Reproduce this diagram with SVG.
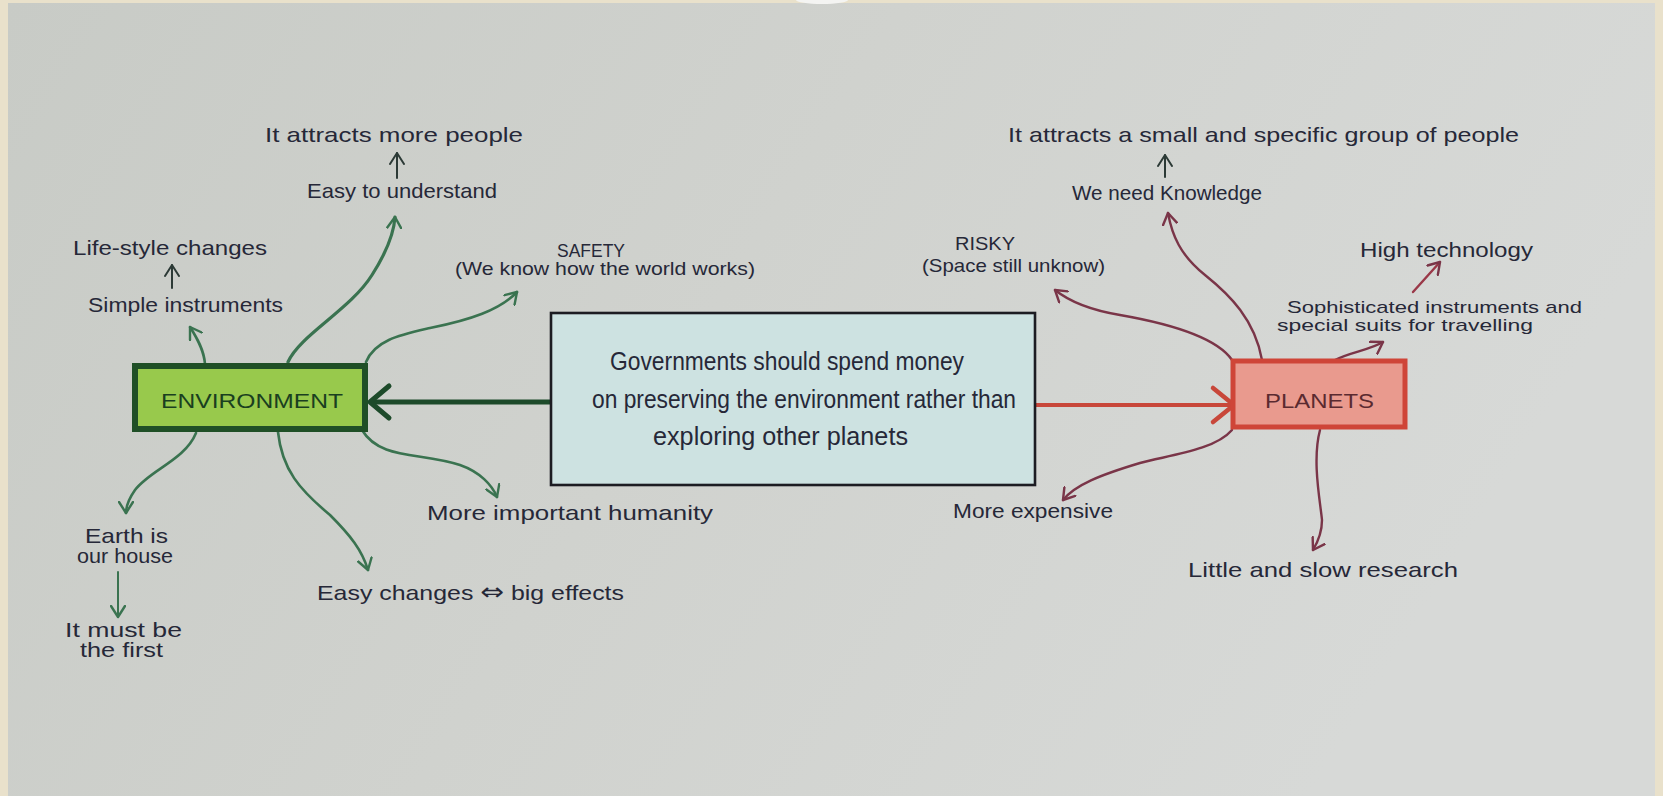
<svg xmlns="http://www.w3.org/2000/svg" width="1663" height="796" viewBox="0 0 1663 796">
<defs>
<linearGradient id="paper" x1="0" y1="0" x2="1" y2="0.3">
<stop offset="0" stop-color="#c8cbc6"/>
<stop offset="0.5" stop-color="#d0d2ce"/>
<stop offset="1" stop-color="#d7d9d7"/>
</linearGradient>
<marker id="mg" viewBox="0 0 14 16" refX="12" refY="8" markerWidth="14" markerHeight="16" markerUnits="userSpaceOnUse" orient="auto">
<path d="M1,1 L12,8 L1,15" fill="none" stroke="#3a7350" stroke-width="2.4" stroke-linecap="round" stroke-linejoin="round"/>
</marker>
<marker id="mk" viewBox="0 0 14 16" refX="12" refY="8" markerWidth="14" markerHeight="16" markerUnits="userSpaceOnUse" orient="auto">
<path d="M1,1 L12,8 L1,15" fill="none" stroke="#2c3a36" stroke-width="2" stroke-linecap="round" stroke-linejoin="round"/>
</marker>
<marker id="mr" viewBox="0 0 14 16" refX="12" refY="8" markerWidth="14" markerHeight="16" markerUnits="userSpaceOnUse" orient="auto">
<path d="M1,1 L12,8 L1,15" fill="none" stroke="#7a3548" stroke-width="2.4" stroke-linecap="round" stroke-linejoin="round"/>
</marker>
<style>
text{font-family:"Liberation Sans","DejaVu Sans",sans-serif;fill:#262838;font-size:21px}
.sm{font-size:17px}
.ct{font-size:25px}
.cap{font-size:19px}
.g{fill:none;stroke:#3a7350;stroke-width:2.6;stroke-linecap:round;marker-end:url(#mg)}
.k{fill:none;stroke:#2c3a36;stroke-width:2;stroke-linecap:round;marker-end:url(#mk)}
.r{fill:none;stroke:#7a3548;stroke-width:2.4;stroke-linecap:round;marker-end:url(#mr)}
</style>
</defs>
<rect x="0" y="0" width="1663" height="796" fill="#e9e1cb"/>
<rect x="8" y="3" width="1647" height="793" fill="url(#paper)"/>
<ellipse cx="822" cy="0" rx="26" ry="4" fill="#f4f4f2"/>

<g id="connectors">
<path d="M550,402 L372,402" fill="none" stroke="#1d4a2a" stroke-width="5"/>
<path d="M389,386 L370,402 L389,418" fill="none" stroke="#1d4a2a" stroke-width="5" stroke-linecap="round" stroke-linejoin="round"/>
<path d="M1036,405 L1232,405" fill="none" stroke="#c8473a" stroke-width="4"/>
<path d="M1213,388 L1234,405 L1213,422" fill="none" stroke="#c8473a" stroke-width="4.5" stroke-linecap="round" stroke-linejoin="round"/>
<path class="g" d="M205,364 C204,350 197,338 190,327"/>
<path class="g" style="stroke-width:3.2" d="M288,362 C300,335 350,310 372,275 C388,250 394,232 395,217"/>
<path class="g" d="M366,362 C375,340 400,335 430,328 C470,320 500,310 517,292"/>
<path class="g" d="M196,433 C185,460 150,470 135,490 C128,500 126,507 126,513"/>
<path class="g" d="M278,432 C282,470 300,490 330,515 C350,535 362,550 368,570"/>
<path class="g" d="M362,430 C380,460 420,452 460,465 C480,472 492,485 497,497"/>
<path class="g" style="stroke-width:2" d="M118,572 L118,617"/>
<path class="k" d="M397,178 L397,153"/>
<path class="k" d="M172,288 L172,265"/>
<path class="k" d="M1165,177 L1165,155"/>
<path class="r" d="M1232,360 C1215,335 1160,322 1120,315 C1090,310 1070,302 1055,290"/>
<path class="r" d="M1262,360 C1255,320 1230,295 1205,275 C1180,255 1172,235 1168,213"/>
<path class="r" d="M1335,360 C1350,352 1370,350 1383,342"/>
<path class="r" style="stroke:#9a3848" d="M1413,292 L1440,262"/>
<path class="r" d="M1232,430 C1215,450 1170,455 1140,463 C1100,475 1075,485 1063,500"/>
<path class="r" d="M1320,430 C1312,460 1320,500 1322,520 C1322,535 1316,545 1313,550"/>
</g>

<g id="central">
<rect x="551" y="313" width="484" height="172" fill="#cde2e1" stroke="#1c1c22" stroke-width="2.6"/>
<text class="ct" x="610" y="370" textLength="354" lengthAdjust="spacingAndGlyphs">Governments should spend money</text>
<text class="ct" x="592" y="408" textLength="424" lengthAdjust="spacingAndGlyphs">on preserving the environment rather than</text>
<text class="ct" x="653" y="445" textLength="255" lengthAdjust="spacingAndGlyphs">exploring other planets</text>
</g>

<g id="environment">
<rect x="135" y="366" width="230" height="63" fill="#98c94c" stroke="#1f4f26" stroke-width="6"/>
<text x="161" y="408" textLength="182" lengthAdjust="spacingAndGlyphs" style="fill:#1a3f20">ENVIRONMENT</text>
</g>

<g id="planets">
<rect x="1233" y="361" width="172" height="66" fill="#e99a8e" stroke="#cf4538" stroke-width="5"/>
<text x="1265" y="408" textLength="109" lengthAdjust="spacingAndGlyphs" style="fill:#5a2a30">PLANETS</text>
</g>

<g id="attracts-more">
<text x="265" y="142" textLength="258" lengthAdjust="spacingAndGlyphs">It attracts more people</text>
</g>
<g id="easy-understand">
<text x="307" y="198" textLength="190" lengthAdjust="spacingAndGlyphs">Easy to understand</text>
</g>
<g id="lifestyle">
<text x="73" y="255" textLength="194" lengthAdjust="spacingAndGlyphs">Life-style changes</text>
</g>
<g id="simple">
<text x="88" y="312" textLength="195" lengthAdjust="spacingAndGlyphs">Simple instruments</text>
</g>
<g id="safety">
<text class="cap" x="557" y="257" textLength="68" lengthAdjust="spacingAndGlyphs">SAFETY</text>
<text class="cap" x="455" y="275" textLength="300" lengthAdjust="spacingAndGlyphs">(We know how the world works)</text>
</g>
<g id="earth">
<text x="85" y="543" textLength="83" lengthAdjust="spacingAndGlyphs">Earth is</text>
<text x="77" y="563" textLength="96" lengthAdjust="spacingAndGlyphs">our house</text>
</g>
<g id="first">
<text x="65" y="637" textLength="117" lengthAdjust="spacingAndGlyphs">It must be</text>
<text x="80" y="657" textLength="83" lengthAdjust="spacingAndGlyphs">the first</text>
</g>
<g id="easy-changes">
<text x="317" y="600" textLength="307" lengthAdjust="spacingAndGlyphs">Easy changes <tspan style="font-family:'DejaVu Sans',sans-serif;font-size:24px">⇔</tspan> big effects</text>
</g>
<g id="important">
<text x="427" y="520" textLength="286" lengthAdjust="spacingAndGlyphs">More important humanity</text>
</g>
<g id="risky">
<text class="cap" x="955" y="250" textLength="60" lengthAdjust="spacingAndGlyphs">RISKY</text>
<text class="cap" x="922" y="272" textLength="183" lengthAdjust="spacingAndGlyphs">(Space still unknow)</text>
</g>
<g id="attracts-small">
<text x="1008" y="142" textLength="511" lengthAdjust="spacingAndGlyphs">It attracts a small and specific group of people</text>
</g>
<g id="knowledge">
<text x="1072" y="200" textLength="190" lengthAdjust="spacingAndGlyphs">We need Knowledge</text>
</g>
<g id="high-tech">
<text x="1360" y="257" textLength="173" lengthAdjust="spacingAndGlyphs">High technology</text>
</g>
<g id="sophisticated">
<text class="sm" x="1287" y="313" textLength="295" lengthAdjust="spacingAndGlyphs">Sophisticated instruments and</text>
<text class="sm" x="1277" y="331" textLength="256" lengthAdjust="spacingAndGlyphs">special suits for travelling</text>
</g>
<g id="expensive">
<text x="953" y="518" textLength="160" lengthAdjust="spacingAndGlyphs">More expensive</text>
</g>
<g id="research">
<text x="1188" y="577" textLength="270" lengthAdjust="spacingAndGlyphs">Little and slow research</text>
</g>
</svg>
